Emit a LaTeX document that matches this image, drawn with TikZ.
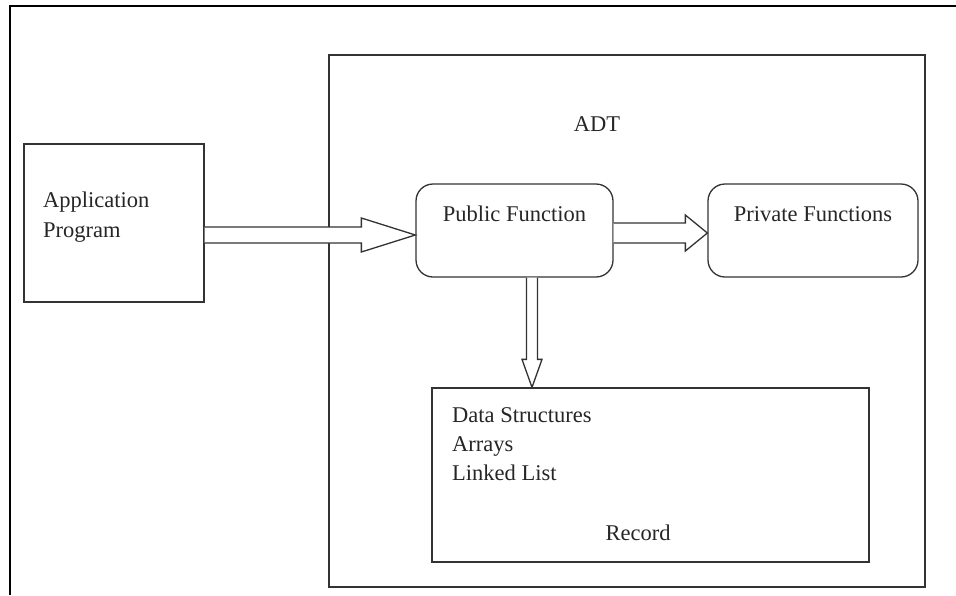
\documentclass[tikz,border=0pt]{standalone}
\usepackage{fontspec}
\setmainfont{Liberation Serif}
\usetikzlibrary{calc}
\tikzset{
  box/.style={draw=black!80, line width=1.3pt, inner sep=0pt, fill=white},
  roundbox/.style={box, rounded corners=17pt},
  lbl/.style={inner sep=0pt, text=black!85, font=\fontsize{22.5}{27}\selectfont},
  hollow/.style={draw=black!80, line width=1.3pt, fill=white, line join=miter},
}
% horizontal hollow block arrow: #1 start, #2 end, #3 half shaft, #4 half head, #5 head length
\newcommand\hblock[5]{%
  \draw[hollow] let \p1=(#1), \p2=(#2) in
    (\x1,\y1+#3) -- (\x2-#5,\y1+#3) -- (\x2-#5,\y1+#4) -- (\x2,\y1)
    -- (\x2-#5,\y1-#4) -- (\x2-#5,\y1-#3) -- (\x1,\y1-#3);}
% vertical (downward) hollow block arrow
\newcommand\vblock[5]{%
  \draw[hollow] let \p1=(#1), \p2=(#2) in
    (\x1-#3,\y1) -- (\x1-#3,\y2+#5) -- (\x1-#4,\y2+#5) -- (\x1,\y2)
    -- (\x1+#4,\y2+#5) -- (\x1+#3,\y2+#5) -- (\x1+#3,\y1);}
\begin{document}
\begin{tikzpicture}[x=1pt,y=-1pt]
\useasboundingbox (0,0) rectangle (956,595);
% page frame
\draw[line width=2.2pt, black] (10,595) -- (10,6) -- (956,6);

% ADT container
\node[box, minimum width=596pt, minimum height=532pt] (adt) at (627,321) {};
\node[lbl] (adtlbl) at (597,124) {ADT};

% application program
\node[box, minimum width=180pt, minimum height=158pt] (app) at (114,223) {};
\node[lbl, anchor=base west] (applbl1) at (43,207) {Application};
\node[lbl, anchor=base west] (applbl2) at (43,237) {Program};

% functions
\node[roundbox, minimum width=197pt, minimum height=93pt] (pub) at (514.5,230.5) {};
\node[lbl, anchor=base] (publbl) at (514.5,221) {Public Function};
\node[roundbox, minimum width=210pt, minimum height=93pt] (priv) at (813,230.5) {};
\node[lbl, anchor=base] (privlbl) at (813,221) {Private Functions};

% storage
\node[box, minimum width=437pt, minimum height=174pt] (rec) at (650.5,475) {};
\node[lbl, anchor=base west] (ds1) at (452,422) {Data Structures};
\node[lbl, anchor=base west] (ds2) at (452,451) {Arrays};
\node[lbl, anchor=base west] (ds3) at (452,480) {Linked List};
\node[lbl, anchor=base] (ds4) at (638,540) {Record};

% connectors
\coordinate (a1s) at (app.east |- 0,235);
\coordinate (a1e) at (pub.west |- 0,235);
\hblock{a1s}{a1e}{8pt}{17pt}{54pt}
\coordinate (a2s) at (pub.east |- 0,233);
\coordinate (a2e) at (priv.west |- 0,233);
\hblock{a2s}{a2e}{10pt}{18pt}{22pt}
\coordinate (a3s) at (pub.south -| 532,0);
\coordinate (a3e) at (rec.north -| 532,0);
\vblock{a3s}{a3e}{5.5pt}{10pt}{28pt}
\end{tikzpicture}
\end{document}
